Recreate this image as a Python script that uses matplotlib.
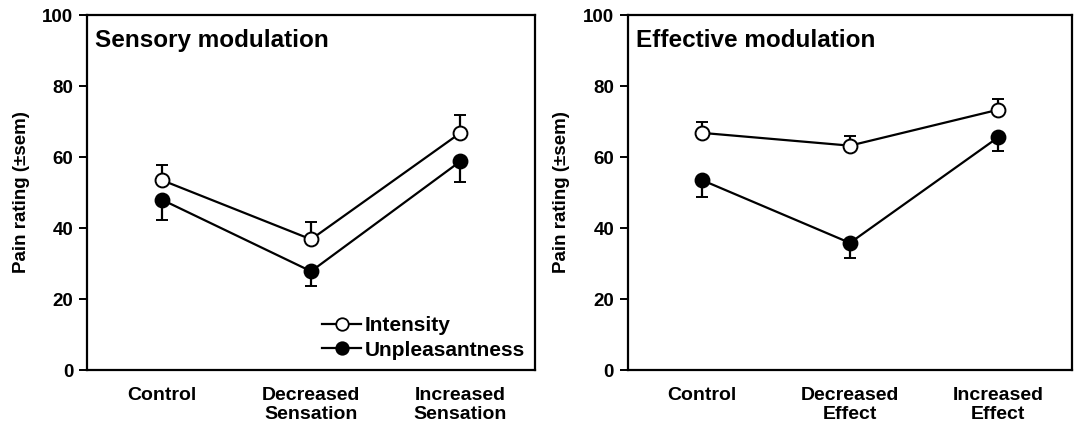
import matplotlib
matplotlib.use("Agg")
import matplotlib.pyplot as plt
from matplotlib.lines import Line2D
import numpy as np

plt.rcParams['font.family'] = ['Liberation Sans', 'DejaVu Sans']
plt.rcParams['font.weight'] = 'bold'

# pain ratings per condition, mean and sem
sensory_labels = ['Control', 'Decreased\nSensation', 'Increased\nSensation']
sensory_int = [53.5, 36.8, 66.8]
sensory_int_sem = [4.3, 5.0, 5.0]
sensory_unp = [48.0, 27.8, 58.8]
sensory_unp_sem = [5.7, 4.0, 5.8]

effect_labels = ['Control', 'Decreased\nEffect', 'Increased\nEffect']
effect_int = [66.8, 63.2, 73.3]
effect_int_sem = [3.2, 2.6, 2.9]
effect_unp = [53.5, 35.8, 65.5]
effect_unp_sem = [4.8, 4.3, 3.9]

titles = ['Sensory modulation', 'Effective modulation']
yticks = [0, 20, 40, 60, 80, 100]

fig = plt.figure(figsize=(10.76, 4.30), dpi=100)
ax1 = fig.add_axes([0.0809, 0.1395, 0.4164, 0.8256])
ax2 = fig.add_axes([0.5836, 0.1395, 0.4126, 0.8256])


def draw_panel(ax, labels, inten, inten_sem, unp, unp_sem, title, legend=False):
    x = np.arange(len(labels))
    zeros = np.zeros(len(labels))
    # intensity: open circles, error bars pointing up
    ax.errorbar(x, inten, yerr=[zeros, inten_sem], color='black', lw=1.6,
                marker='o', ms=10, mfc='white', mec='black', mew=1.4,
                ecolor='black', elinewidth=1.6, capsize=4, capthick=1.6,
                zorder=3)
    # unpleasantness: filled circles, error bars pointing down
    ax.errorbar(x, unp, yerr=[unp_sem, zeros], color='black', lw=1.6,
                marker='o', ms=10, mfc='black', mec='black', mew=1.4,
                ecolor='black', elinewidth=1.6, capsize=4, capthick=1.6,
                zorder=3)
    ax.set_xlim(-0.5, 2.5)
    ax.set_ylim(0, 100)
    ax.set_yticks(yticks)
    ax.set_xticks(x)
    ax.set_xticklabels(labels, fontsize=14, fontweight='bold', linespacing=1.2)
    ax.tick_params(axis='x', length=0, pad=12)
    ax.tick_params(axis='y', direction='out', length=6, width=1.4, labelsize=13.5, pad=4)
    for s in ax.spines.values():
        s.set_linewidth(1.6)
    ax.set_ylabel('Pain rating (\u00b1sem)', fontsize=13.5, fontweight='bold', labelpad=9)
    ax.text(0.018, 0.96, title, transform=ax.transAxes, ha='left', va='top',
            fontsize=17.5, fontweight='bold')
    if legend:
        handles = [
            Line2D([], [], color='black', lw=1.6, marker='o', ms=9,
                   mfc='white', mec='black', mew=1.3),
            Line2D([], [], color='black', lw=1.6, marker='o', ms=9,
                   mfc='black', mec='black', mew=1.3),
        ]
        ax.legend(handles, ['Intensity', 'Unpleasantness'], loc='lower right',
                  frameon=False, fontsize=15, handlelength=1.9, handletextpad=0.15,
                  borderaxespad=0.1, labelspacing=0.25, bbox_to_anchor=(1.0, 0.0))


draw_panel(ax1, sensory_labels, sensory_int, sensory_int_sem, sensory_unp, sensory_unp_sem,
           titles[0], legend=True)
draw_panel(ax2, effect_labels, effect_int, effect_int_sem, effect_unp, effect_unp_sem,
           titles[1])

fig.savefig('out.png', dpi=100)
